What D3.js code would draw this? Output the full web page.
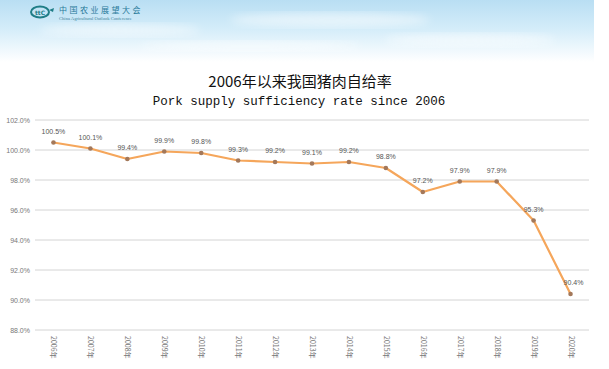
<!DOCTYPE html>
<html>
<head>
<meta charset="utf-8">
<script src="https://cdn.jsdelivr.net/npm/d3@7"></script>
<style>
  body { margin: 0; background: #fff; }
  svg { display: block; }
</style>
</head>
<body>
<svg id="vis" width="609" height="369"></svg>
<script>
// chart data
var years = ["2006年", "2007年", "2008年", "2009年", "2010年", "2011年", "2012年", "2013年",
             "2014年", "2015年", "2016年", "2017年", "2018年", "2019年", "2020年"];
var rates = [100.5, 100.1, 99.4, 99.9, 99.8, 99.3, 99.2, 99.1, 99.2, 98.8, 97.2, 97.9, 97.9, 95.3, 90.4];
var yTicks = [88, 90, 92, 94, 96, 98, 100, 102];

var svg = d3.select("#vis");

// sky banner at the top
var defs = svg.append("defs");
var sky = defs.append("linearGradient").attr("id", "sky")
    .attr("x1", 0).attr("y1", 0).attr("x2", 0).attr("y2", 1);
sky.append("stop").attr("offset", "0%").attr("stop-color", "#b9def3");
sky.append("stop").attr("offset", "45%").attr("stop-color", "#d3ecf9");
sky.append("stop").attr("offset", "100%").attr("stop-color", "#ffffff");
defs.append("filter").attr("id", "soft").append("feGaussianBlur").attr("stdDeviation", 4);
svg.append("rect").attr("x", 0).attr("y", 0).attr("width", 594).attr("height", 62)
    .attr("fill", "url(#sky)");
// a few soft cloud streaks
var clouds = [[120, 30, 160, 6], [330, 20, 200, 7], [470, 40, 170, 6], [250, 46, 220, 5]];
clouds.forEach(function (c) {
    svg.append("ellipse").attr("cx", c[0]).attr("cy", c[1]).attr("rx", c[2] / 2).attr("ry", c[3])
        .attr("fill", "#ffffff").attr("opacity", 0.5).attr("filter", "url(#soft)");
});

// logo
var logo = svg.append("g").attr("transform", "translate(40,12)");
logo.append("ellipse").attr("cx", 0).attr("cy", 0).attr("rx", 9).attr("ry", 5.5)
    .attr("fill", "none").attr("stroke", "#1f7d86").attr("stroke-width", 2);
logo.append("text").attr("x", 0).attr("y", 2.5).attr("text-anchor", "middle")
    .attr("font-family", "DejaVu Sans").attr("font-size", 6).attr("font-weight", "bold")
    .attr("fill", "#1f7d86").text("ttC");
logo.append("path").attr("d", "M9,-2 L14,-4 L13,0 Z").attr("fill", "#1f7d86");
svg.append("text").attr("x", 59).attr("y", 13)
    .attr("font-family", "Noto Sans CJK SC").attr("font-size", 8).attr("letter-spacing", 2.5)
    .attr("fill", "#2a7a9a").text("中国农业展望大会");
svg.append("text").attr("x", 59).attr("y", 20)
    .attr("font-family", "Liberation Serif").attr("font-size", 4.6)
    .attr("fill", "#3b7f9a").text("China Agricultural Outlook Conference");

// titles
svg.append("text").attr("x", 300).attr("y", 87).attr("text-anchor", "middle")
    .attr("font-family", "Noto Sans CJK SC").attr("font-size", 15).attr("fill", "#111")
    .text("2006年以来我国猪肉自给率");
svg.append("text").attr("x", 299).attr("y", 105).attr("text-anchor", "middle")
    .attr("font-family", "Liberation Mono").attr("font-size", 12.5).attr("fill", "#111")
    .text("Pork supply sufficiency rate since 2006");

// scales
var x = d3.scaleBand().domain(years).range([35, 589]);
var y = d3.scaleLinear().domain([88, 102]).range([330, 120]);

// gridlines + y labels
svg.append("g").selectAll("line").data(yTicks).enter().append("line")
    .attr("x1", 35).attr("x2", 589)
    .attr("y1", d => y(d)).attr("y2", d => y(d))
    .attr("stroke", "#d4d4d4").attr("stroke-width", 1);

svg.append("g").selectAll("text").data(yTicks).enter().append("text")
    .attr("x", 30).attr("y", d => y(d) + 2.5)
    .attr("text-anchor", "end")
    .attr("font-family", "Liberation Sans").attr("font-size", 7).attr("fill", "#777")
    .text(d => d.toFixed(1) + "%");

// x labels, rotated
svg.append("g").selectAll("text").data(years).enter().append("text")
    .attr("transform", d => "translate(" + (x(d) + x.bandwidth() / 2 - 2) + ",336) rotate(90)")
    .attr("font-family", "Noto Sans CJK SC").attr("font-size", 7).attr("fill", "#777")
    .text(d => d);

// line
var cx = d => x(d) + x.bandwidth() / 2;
var line = d3.line()
    .x((d, i) => cx(years[i]))
    .y(d => y(d));

svg.append("path").datum(rates)
    .attr("d", line)
    .attr("fill", "none").attr("stroke", "#f5a65b").attr("stroke-width", 2.2)
    .attr("stroke-linejoin", "round");

svg.append("g").selectAll("circle").data(rates).enter().append("circle")
    .attr("cx", (d, i) => cx(years[i])).attr("cy", d => y(d))
    .attr("r", 2.3).attr("fill", "#a3785a");

// value labels
svg.append("g").selectAll("text").data(rates).enter().append("text")
    .attr("x", (d, i) => cx(years[i]) + (i === rates.length - 1 ? 3 : 0))
    .attr("y", d => y(d) - 9)
    .attr("text-anchor", "middle")
    .attr("font-family", "Liberation Sans").attr("font-size", 7).attr("fill", "#555")
    .text(d => d.toFixed(1) + "%");
</script>
</body>
</html>
